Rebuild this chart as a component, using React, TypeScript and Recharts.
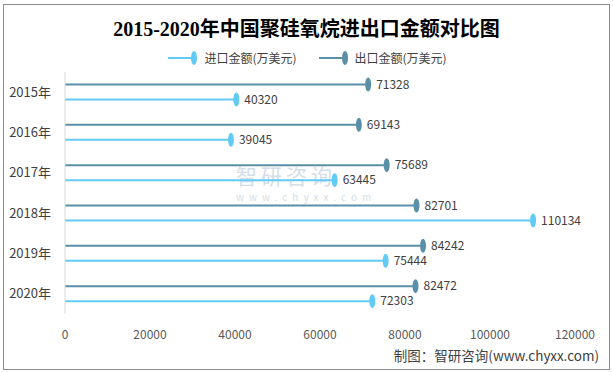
import React from "react";
import { BarChart, Bar, XAxis, YAxis, LabelList } from "recharts";

const years = ["2015年", "2016年", "2017年", "2018年", "2019年", "2020年"];
const exportValues = [71328, 69143, 75689, 82701, 84242, 82472];
const importValues = [40320, 39045, 63445, 110134, 75444, 72303];
const xTicks = [0, 20000, 40000, 60000, 80000, 100000, 120000];

const IMPORT_COLOR = "#62cbf5";
const EXPORT_COLOR = "#5a8fa9";
const SANS = "'Microsoft YaHei', 'Noto Sans CJK SC', sans-serif";

const data = years.map((year, i) => ({
  year,
  exp: exportValues[i],
  imp: importValues[i],
}));

const Lollipop = (props: any) => {
  const { x, y, width, height, fill } = props;
  const cy = y + height / 2;
  const end = x + width;
  return (
    <g>
      <line x1={x} y1={cy} x2={end} y2={cy} stroke={fill} strokeWidth={2} />
      <ellipse cx={end} cy={cy} rx={3} ry={7} fill={fill} />
    </g>
  );
};

const legendItems = [
  { label: "进口金额(万美元)", color: IMPORT_COLOR },
  { label: "出口金额(万美元)", color: EXPORT_COLOR },
];

export default function App() {
  return (
    <div
      style={{
        position: "absolute",
        left: 0,
        top: 0,
        width: 613,
        height: 372,
        background: "#fff",
        fontFamily: SANS,
      }}
    >
      <div
        style={{
          position: "absolute",
          left: 3,
          top: 4,
          width: 605,
          height: 364,
          border: "1px solid #8c8c8c",
        }}
      />
      <div
        style={{
          position: "absolute",
          left: 0,
          top: 13,
          width: 613,
          textAlign: "center",
          fontSize: 20,
          fontWeight: "bold",
          color: "#000",
          fontFamily: "'Liberation Serif', 'Noto Sans CJK SC', serif",
        }}
      >
        2015-2020年中国聚硅氧烷进出口金额对比图
      </div>
      <div
        style={{
          position: "absolute",
          left: 0,
          top: 49,
          width: 613,
          display: "flex",
          justifyContent: "center",
          gap: 20,
        }}
      >
        {legendItems.map((it) => (
          <div key={it.label} style={{ display: "flex", alignItems: "center" }}>
            <svg width={32} height={16}>
              <line x1={2} y1={8} x2={28} y2={8} stroke={it.color} strokeWidth={2} />
              <ellipse cx={28} cy={8} rx={3} ry={7} fill={it.color} />
            </svg>
            <span style={{ fontSize: 12, color: "#404040", marginLeft: 6 }}>{it.label}</span>
          </div>
        ))}
      </div>
      <div
        style={{
          position: "absolute",
          left: 236,
          top: 163,
          color: "#c9d6e3",
          opacity: 0.8,
        }}
      >
        <div style={{ fontSize: 21, letterSpacing: 4, lineHeight: "24px" }}>智研咨询</div>
        <div style={{ fontSize: 10, letterSpacing: 5, lineHeight: "12px", marginTop: 4 }}>
          www.chyxx.com
        </div>
      </div>
      <div style={{ position: "absolute", left: 0, top: 0 }}>
        <BarChart
          width={613}
          height={372}
          data={data}
          layout="vertical"
          margin={{ top: 72, right: 38, bottom: 28, left: 5 }}
          barSize={15}
          barGap={0}
        >
          <XAxis
            type="number"
            domain={[0, 120000]}
            ticks={xTicks}
            axisLine={false}
            tickLine={false}
            tick={{ fill: "#595959", fontSize: 12, fontFamily: SANS }}
            tickMargin={10}
            height={30}
          />
          <YAxis
            type="category"
            dataKey="year"
            width={60}
            axisLine={{ stroke: "#d9d9d9" }}
            tickLine={false}
            tick={{ fill: "#404040", fontSize: 13, fontFamily: SANS }}
            tickMargin={8}
          />
          <Bar
            dataKey="exp"
            name="出口金额(万美元)"
            fill={EXPORT_COLOR}
            shape={<Lollipop />}
            isAnimationActive={false}
          >
            <LabelList
              dataKey="exp"
              position="right"
              offset={8}
              fill="#404040"
              fontSize={12}
              fontFamily={SANS}
            />
          </Bar>
          <Bar
            dataKey="imp"
            name="进口金额(万美元)"
            fill={IMPORT_COLOR}
            shape={<Lollipop />}
            isAnimationActive={false}
          >
            <LabelList
              dataKey="imp"
              position="right"
              offset={8}
              fill="#404040"
              fontSize={12}
              fontFamily={SANS}
            />
          </Bar>
        </BarChart>
      </div>
      <div
        style={{
          position: "absolute",
          right: 14,
          top: 345,
          fontSize: 13.5,
          color: "#404040",
        }}
      >
        制图：智研咨询(www.chyxx.com)
      </div>
    </div>
  );
}
